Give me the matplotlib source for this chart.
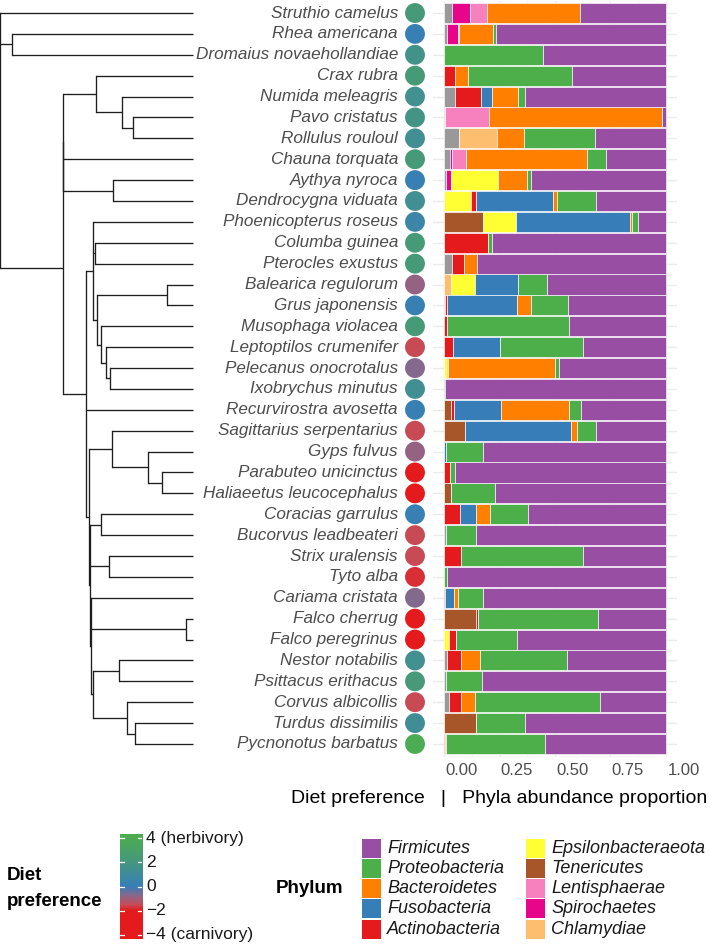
import matplotlib
matplotlib.use("Agg")
import matplotlib.pyplot as plt
import numpy as np
from matplotlib.colors import LinearSegmentedColormap, Normalize
from matplotlib.transforms import ScaledTranslation
from matplotlib.patches import Rectangle

plt.rcParams['font.family'] = ['Liberation Sans', 'DejaVu Sans']

# ---------------- data ----------------
species = ["Struthio camelus", "Rhea americana", "Dromaius novaehollandiae", "Crax rubra",
           "Numida meleagris", "Pavo cristatus", "Rollulus rouloul", "Chauna torquata",
           "Aythya nyroca", "Dendrocygna viduata", "Phoenicopterus roseus", "Columba guinea",
           "Pterocles exustus", "Balearica regulorum", "Grus japonensis", "Musophaga violacea",
           "Leptoptilos crumenifer", "Pelecanus onocrotalus", "Ixobrychus minutus",
           "Recurvirostra avosetta", "Sagittarius serpentarius", "Gyps fulvus",
           "Parabuteo unicinctus", "Haliaeetus leucocephalus", "Coracias garrulus",
           "Bucorvus leadbeateri", "Strix uralensis", "Tyto alba", "Cariama cristata",
           "Falco cherrug", "Falco peregrinus", "Nestor notabilis", "Psittacus erithacus",
           "Corvus albicollis", "Turdus dissimilis", "Pycnonotus barbatus"]

diet = [2.2, 0.2, 1.6, 2.3, 1.4, 1.8, 1.3, 2.3, 0.2, 1.3, 0.6, 2.3, 2.3, -0.9, 0.2, 2.3,
        -1.5, -0.7, 1.3, 0.2, -1.5, -0.9, -2.5, -2.5, 0.2, -1.5, -1.5, -1.8, -0.7,
        -2.5, -2.5, 1.4, 2.2, -1.5, 1.2, 4.0]

firmicutes = [.387, .768, .553, .425, .637, .016, .318, .27, .608, .314, .127, .782, .852, .534,
              .44, .435, .373, .482, .997, .381, .317, .825, .951, .77, .622, .855, .376, .987,
              .824, .305, .673, .446, .827, .298, .635, .546]
proteobacteria = [0, .012, .447, .465, .032, 0, .321, .087, .02, .176, .025, .018, 0, .132,
                  .168, .553, .373, .02, .003, .057, .085, .168, .022, .2, .172, .138, .548,
                  .013, .112, .54, .272, .39, .166, .563, .222, .444]
bacteroidetes = [.42, .153, 0, .06, .113, .78, .124, .542, .128, .02, .01, 0, .057, 0, .062, 0,
                 0, .482, 0, .306, .025, 0, 0, 0, .062, 0, 0, 0, .02, 0, 0, .089, 0, .064, 0, .005]
fusobacteria = [0, 0, 0, 0, .053, 0, 0, 0, 0, .345, .513, 0, 0, .194, .315, 0, .215, 0, 0, .212,
                .478, .007, 0, 0, .074, 0, 0, 0, .038, 0, 0, 0, 0, 0, 0, 0]
actinobacteria = [0, 0, 0, .05, .115, 0, 0, 0, 0, .023, 0, .2, .056, 0, .009, .012, .039, .004,
                  0, .011, 0, 0, .027, 0, .07, 0, .076, 0, .006, .012, .035, .062, 0, .055, 0, .005]
epsilonbacteraeota = [0, 0, 0, 0, 0, 0, 0, 0, .212, .122, .15, 0, 0, .108, 0, 0, 0, .012, 0, 0,
                      0, 0, 0, 0, 0, 0, 0, 0, 0, 0, .02, 0, 0, 0, 0, 0]
tenericutes = [0, 0, 0, 0, 0, 0, 0, 0, 0, 0, .175, 0, 0, 0, 0, 0, 0, 0, 0, .033, .095, 0, 0, .03,
               0, 0, 0, 0, 0, .143, 0, 0, 0, 0, .143, 0]
lentisphaerae = [.075, .004, 0, 0, 0, .198, 0, .066, 0, 0, 0, 0, 0, 0, 0, 0, 0, 0, 0, 0, 0, 0,
                 0, 0, 0, 0, 0, 0, 0, 0, 0, 0, 0, 0, 0, 0]
spirochaetes = [.083, .048, 0, 0, 0, 0, 0, .008, .023, 0, 0, 0, 0, 0, 0, 0, 0, 0, 0, 0, 0, 0, 0,
                0, 0, 0, 0, 0, 0, 0, 0, 0, 0, 0, 0, 0]
chlamydiae = [0, 0, 0, 0, 0, 0, .172, 0, 0, 0, 0, 0, 0, .032, 0, 0, 0, 0, 0, 0, 0, 0, 0, 0, 0,
              0, 0, 0, 0, 0, 0, 0, 0, 0, 0, 0]
others = [.035, .015, 0, 0, .05, .006, .065, .027, .009, 0, 0, 0, .035, 0, .006, 0, 0, 0, 0, 0,
          0, 0, 0, 0, 0, .007, 0, 0, 0, 0, 0, .013, .007, .02, 0, 0]

phylum_names = ["Firmicutes", "Proteobacteria", "Bacteroidetes", "Fusobacteria", "Actinobacteria",
                "Epsilonbacteraeota", "Tenericutes", "Lentisphaerae", "Spirochaetes", "Chlamydiae"]
phylum_values = [firmicutes, proteobacteria, bacteroidetes, fusobacteria, actinobacteria,
                 epsilonbacteraeota, tenericutes, lentisphaerae, spirochaetes, chlamydiae]
phylum_colors = ["#984EA3", "#4DAF4A", "#FF7F00", "#377EB8", "#E41A1C",
                 "#FFFF33", "#A65628", "#F781BF", "#E7058A", "#FDBF6F"]
others_color = "#999999"

# phylogeny: (node depth, [children]); leaves are species indices; depths on tip scale 0..193
tip_depth = 193
tree = (0, [0,
            (11.7, [1, 2]),
            (63, [(63, [(96, [3, (122, [4, (133, [5, 6])])]),
                        7,
                        (113, [8, 9])]),
                  (86, [(93, [10, (95, [11, 12]),
                              (97, [(167, [13, 14]), (101, [15, (106, [16, (110, [17, 18])])])])]),
                        19,
                        (89, [(112, [20, (148, [21, (162, [22, 23])])]),
                              (90, [(101, [24, 25]), (109, [26, 27]),
                                    (91, [28, (186, [29, 30]),
                                          (93, [(119, [31, 32]),
                                                (127, [33, (135, [34, 35])])])])])])])])])

diet_breaks = [4, 2, 0, -2, -4]
diet_labels = ["4 (herbivory)", "2", "0", "\u22122", "\u22124 (carnivory)"]
xticks = [0, 0.25, 0.5, 0.75, 1.0]
xtick_labels = ["0.00", "0.25", "0.50", "0.75", "1.00"]

# ---------------- figure ----------------
W, H = 709, 946
fig = plt.figure(figsize=(W / 100, H / 100), dpi=100)

def fbox(x0, y0, x1, y1):
    return [x0 / W, 1 - y1 / H, (x1 - x0) / W, (y1 - y0) / H]

n = len(species)
ylim = (n - 1 + 0.6, -0.6)
ptop, pbot = 0.5, 756.5

# colormap for diet preference
vmin, vmax = -4.35, 4.35
nodes = [(-4.35, "#E41A1C"), (-2.0, "#E41A1C"), (-1.5, "#C64C57"), (-0.8, "#8E6688"),
         (0.0, "#377EB8"), (2.0, "#46977F"), (4.35, "#4DAF4A")]
cmap = LinearSegmentedColormap.from_list(
    "diet", [((v - vmin) / (vmax - vmin), c) for v, c in nodes])
norm = Normalize(vmin, vmax)

# tree + labels + points axes
axt = fig.add_axes(fbox(0, ptop, 430, pbot))
axt.set_xlim(0, 430)
axt.set_ylim(*ylim)
axt.axis("off")

def draw(node):
    if isinstance(node, int):
        return node, tip_depth
    d, children = node
    ys = []
    for ch in children:
        y, cd = draw(ch)
        if cd > d:
            axt.plot([d, cd], [y, y], color="#1E1E1E", lw=0.95, solid_capstyle="butt")
        ys.append(y)
    axt.plot([d, d], [min(ys), max(ys)], color="#1E1E1E", lw=0.95, solid_capstyle="projecting")
    return (min(ys) + max(ys)) / 2, d

draw(tree)

rows = np.arange(n)
for i, s in enumerate(species):
    axt.text(398, i, s, ha="right", va="center", style="italic", fontsize=12.3, color="#4D4D4D")
axt.scatter(np.full(n, 415), rows, c=diet, cmap=cmap, norm=norm, s=205, linewidths=0, zorder=3)

# stacked bars
axb = fig.add_axes(fbox(433, ptop, 677, pbot))
axb.set_xlim(-0.05, 1.05)
axb.set_ylim(*ylim)
left = np.zeros(n)
stack_vals = [others] + phylum_values[::-1]
stack_cols = [others_color] + phylum_colors[::-1]
for vals, col in zip(stack_vals, stack_cols):
    v = np.array(vals)
    axb.barh(rows, v, left=left, height=0.96, color=col, edgecolor="white", linewidth=0.45, zorder=2)
    left += v
axb.set_xticks(xticks)
axb.set_xticks(np.arange(0.125, 1.0, 0.25), minor=True)
axb.set_xticklabels(xtick_labels, fontsize=12, color="#4D4D4D")
axb.set_yticks(rows)
axb.set_yticklabels([])
axb.tick_params(length=0, which="both", pad=5)
axb.grid(True, which="major", color="#EBEBEB", lw=1.0, zorder=0)
axb.grid(True, which="minor", axis="x", color="#F2F2F2", lw=0.6, zorder=0)
axb.set_axisbelow(True)
for sp in axb.spines.values():
    sp.set_visible(False)
shift = ScaledTranslation(17.5 / 100, 0, fig.dpi_scale_trans)
for lbl in axb.get_xticklabels():
    lbl.set_transform(lbl.get_transform() + shift)

# overlay axes in pixel coordinates for texts & legends
axo = fig.add_axes([0, 0, 1, 1])
axo.set_xlim(0, W)
axo.set_ylim(H, 0)
axo.axis("off")

axo.text(707, 798, "Diet preference   |   Phyla abundance proportion", ha="right", va="center",
         fontsize=14, color="black")

# diet colorbar legend
axo.text(7, 875, "Diet", ha="left", va="center", fontsize=13.5, fontweight="bold")
axo.text(7, 901, "preference", ha="left", va="center", fontsize=13.5, fontweight="bold")
cb_top, cb_bot, cb_l, cb_r = 834, 939, 120, 142
axc = fig.add_axes(fbox(cb_l, cb_top, cb_r, cb_bot))
grad = np.linspace(vmax, vmin, 256).reshape(-1, 1)
axc.imshow(grad, cmap=cmap, norm=norm, aspect="auto", extent=(0, 1, vmin, vmax))
axc.set_xlim(0, 1)
axc.set_ylim(vmin, vmax)
axc.axis("off")
for b, lab in zip(diet_breaks, diet_labels):
    axc.plot([0, 0.2], [b, b], color="white", lw=0.9)
    axc.plot([0.8, 1], [b, b], color="white", lw=0.9)
    ypx = cb_top + (vmax - b) / (vmax - vmin) * (cb_bot - cb_top)
    axo.text(146, ypx, lab, ha="left", va="center", fontsize=12.5, color="#1A1A1A")

# phylum legend
axo.text(276, 888, "Phylum", ha="left", va="center", fontsize=13.5, fontweight="bold")
key_rows = [848, 868.3, 888.6, 908.9, 929.2]
for k, (name, col) in enumerate(zip(phylum_names, phylum_colors)):
    cx = 362 if k < 5 else 526
    cy = key_rows[k % 5]
    axo.add_patch(Rectangle((cx, cy - 9.5), 19, 19, facecolor=col, edgecolor="none"))
    axo.text(cx + 25, cy, name, ha="left", va="center", style="italic", fontsize=13,
             color="#1A1A1A")

fig.savefig("out.png", dpi=100)
